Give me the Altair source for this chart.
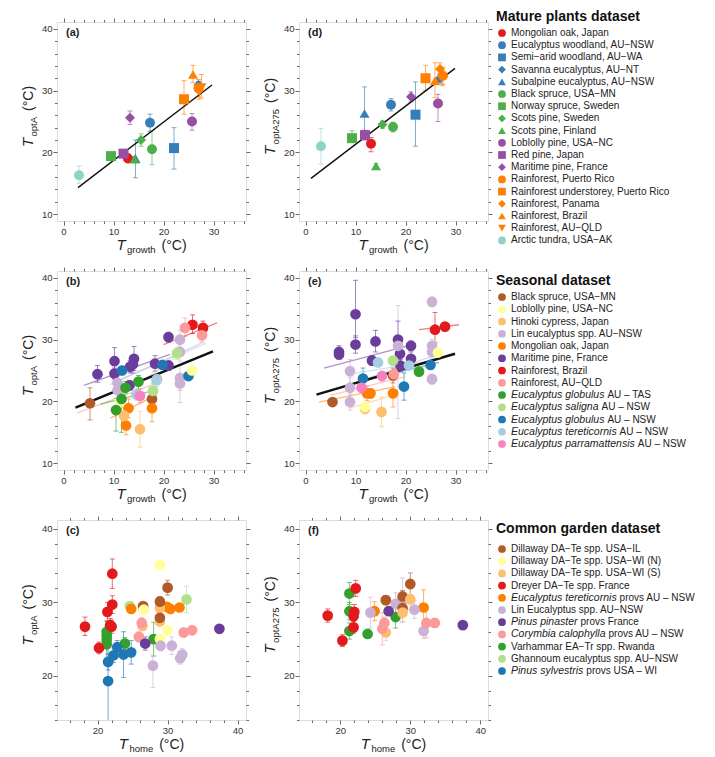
import altair as alt
import pandas as pd

FONT = "Liberation Sans"
TXT = "#222222"
LAB = "#333333"

# ---------------- Mature plants dataset ----------------
mature_names = ["Mongolian oak, Japan", "Eucalyptus woodland, AU−NSW", "Semi−arid woodland, AU−WA",
                "Savanna eucalyptus, AU−NT", "Subalpine eucalyptus, AU−NSW", "Black spruce, USA−MN",
                "Norway spruce, Sweden", "Scots pine, Sweden", "Scots pine, Finland",
                "Loblolly pine, USA−NC", "Red pine, Japan", "Maritime pine, France",
                "Rainforest, Puerto Rico", "Rainforest understorey, Puerto Rico", "Rainforest, Panama",
                "Rainforest, Brazil", "Rainforest, AU−QLD", "Arctic tundra, USA−AK"]
mature_colors = ["#e41a1c", "#377eb8", "#377eb8", "#377eb8", "#377eb8", "#4daf4a", "#4daf4a", "#4daf4a",
                 "#4daf4a", "#984ea3", "#984ea3", "#984ea3", "#ff7f00", "#ff7f00", "#ff7f00", "#ff7f00",
                 "#ff7f00", "#8dd3c7"]
mature_shapes = ["circle", "circle", "square", "diamond", "triangle-up", "circle", "square", "diamond",
                 "triangle-up", "circle", "square", "diamond", "circle", "square", "diamond", "triangle-up",
                 "triangle-down", "circle"]

# panel (a)
a_x = [12.9, 17.3, 22.1, 27.0, 14.4, 17.7, 9.5, 15.5, 14.2, 25.7, 12.0, 13.3, 27.0, 24.1, 27.1, 25.9, 27.6, 3.1]
a_y = [19.0, 24.8, 20.7, 30.9, 19.0, 20.5, 19.4, 22.0, 18.9, 25.0, 19.8, 25.6, 30.4, 28.6, 30.0, 32.6, 30.5, 16.3]
a_lo = [18.4, 23.4, 17.3, 29.8, 15.9, 18.0, 18.9, 21.0, 18.5, 23.6, 19.3, 24.5, 29.0, 26.2, 28.6, 31.3, 28.8, 15.0]
a_hi = [19.8, 26.2, 24.0, 31.5, 22.0, 23.5, 19.9, 23.0, 19.3, 26.3, 20.3, 26.7, 31.8, 31.6, 31.4, 34.1, 32.6, 17.8]
a_fit_x = [2.9, 29.7]
a_fit_y = [14.3, 30.9]

# panel (d)
d_x = [13.1, 17.1, 22.0, 26.9, 11.8, 17.5, 9.3, 15.4, 14.1, 26.5, 11.9, 21.1, 27.5, 24.0, 26.9, 25.9, 27.3, 3.1]
d_y = [21.4, 27.7, 26.1, 32.0, 26.3, 24.1, 22.3, 24.5, 17.8, 27.9, 22.8, 29.0, 32.4, 32.0, 33.5, 31.6, 32.0, 21.0]
d_lo = [20.1, 26.7, 21.0, 31.2, 22.7, 23.3, 21.8, 23.9, 17.4, 25.0, 22.0, 28.2, 31.0, 30.0, 32.0, 28.9, 30.8, 18.1]
d_hi = [22.4, 28.7, 31.4, 32.8, 30.6, 24.9, 23.5, 25.1, 18.2, 29.4, 23.6, 29.8, 33.8, 34.1, 34.5, 34.5, 33.2, 23.9]
d_fit_x = [1.1, 29.9]
d_fit_y = [15.8, 33.6]

# ---------------- Seasonal dataset ----------------
seasonal_italic = ["", "", "", "", "", "", "", "", "Eucalyptus globulus", "Eucalyptus saligna",
                   "Eucalyptus globulus", "Eucalyptus tereticornis", "Eucalyptus parramattensis"]
seasonal_rest = ["Black spruce, USA−MN", "Loblolly pine, USA−NC", "Hinoki cypress, Japan",
                 "Lin eucalyptus spp. AU−NSW", "Mongolian oak, Japan", "Maritime pine, France",
                 "Rainforest, Brazil", "Rainforest, AU−QLD", "AU – TAS", "AU – NSW", "AU – NSW",
                 "AU – NSW", "AU – NSW"]
seasonal_colors = ["#b15928", "#ffff99", "#fdbf6f", "#cab2d6", "#ff7f00", "#6a3d9a", "#e31a1c", "#fb9a99",
                   "#33a02c", "#b2df8a", "#1f78b4", "#a6cee3", "#f781bf"]

# panel (b): group index into the seasonal list
b_g = [0, 0, 5, 5, 5, 5, 5, 5, 5, 5, 5, 5, 3, 3, 3, 3, 3, 3, 3, 10, 10, 10, 11, 11, 4, 4, 4, 2, 2, 1, 1,
       8, 8, 8, 8, 9, 9, 12, 6, 6, 7, 7]
b_x = [5.3, 17.7, 6.8, 10.2, 10.2, 13.3, 13.9, 14.1, 18.3, 21.0, 21.0, 13.2, 10.8, 10.8, 23.3, 23.3, 23.3,
       23.3, 18.7, 11.7, 19.8, 25.0, 14.6, 18.6, 13.0, 12.5, 17.7, 12.1, 15.3, 11.3, 25.7, 10.5, 12.4, 15.0,
       11.6, 17.9, 22.7, 15.3, 25.8, 27.9, 24.3, 27.7]
b_y = [19.7, 20.4, 24.4, 26.5, 24.5, 25.6, 26.0, 26.9, 26.1, 30.4, 25.8, 22.6, 23.0, 21.8, 30.0, 28.0, 23.8,
       22.9, 23.6, 25.0, 25.9, 24.1, 21.1, 23.4, 18.9, 16.1, 18.9, 17.7, 15.5, 20.0, 25.0, 18.6, 22.2, 23.2,
       20.4, 21.7, 27.8, 20.9, 32.4, 31.9, 31.9, 30.7]
b_lo = [17.0, 19.2, 23.1, 24.6, 23.6, 24.6, 24.6, 25.0, 24.9, 29.6, 25.0, 21.8, 21.3, 20.6, 28.5, 26.5, 19.8,
        21.8, 22.8, 24.3, 25.3, 23.6, 20.2, 22.4, 17.4, 14.6, 16.7, 16.4, 12.6, 19.0, 24.3, 15.2, 21.2, 22.0,
        15.0, 20.5, 26.8, 19.8, 31.0, 31.0, 30.5, 29.6]
b_hi = [22.2, 21.6, 25.8, 28.7, 25.4, 26.6, 27.4, 28.9, 27.4, 31.2, 26.6, 23.4, 24.7, 23.0, 31.5, 29.5, 25.8,
        24.0, 24.4, 25.7, 26.5, 24.6, 22.0, 24.4, 20.4, 17.6, 21.1, 19.0, 18.4, 21.0, 25.7, 20.5, 23.2, 24.2,
        21.5, 22.9, 28.8, 22.0, 34.0, 33.0, 33.5, 31.8]
b_fit_g = [5, 3, 11, 6, 7, 4, 8, 9]
b_fit_x1 = [4.1, 9.3, 11.0, 20.0, 2.7, 9.4, 7.3, 10.0]
b_fit_y1 = [22.6, 22.7, 23.4, 29.2, 18.1, 17.3, 19.5, 20.0]
b_fit_x2 = [21.3, 28.0, 28.5, 30.7, 18.7, 18.7, 18.7, 23.0]
b_fit_y2 = [27.6, 29.6, 29.4, 32.7, 23.0, 21.1, 21.9, 27.5]
b_all_x = [2.4, 29.9]
b_all_y = [19.0, 28.1]

# panel (e)
e_g = [0, 0, 5, 5, 5, 5, 5, 5, 5, 5, 5, 5, 5, 3, 3, 3, 3, 3, 3, 3, 3, 10, 10, 10, 11, 11, 9, 9, 8, 4, 4,
       4, 2, 2, 1, 1, 12, 12, 6, 6, 7]
e_x = [5.4, 17.5, 6.7, 6.7, 10.0, 10.0, 13.3, 14.0, 18.5, 18.9, 19.0, 21.1, 21.1, 8.9, 8.9, 8.9, 18.5, 25.3,
       25.3, 25.3, 25.3, 11.5, 19.7, 25.0, 14.5, 20.7, 17.5, 22.7, 22.7, 12.3, 13.0, 17.5, 11.9, 15.2, 11.9,
       26.5, 11.2, 15.3, 25.9, 27.9, 17.7]
e_y = [19.9, 24.2, 28.0, 27.6, 34.1, 29.2, 26.6, 29.7, 30.0, 27.7, 25.8, 29.0, 26.9, 24.9, 22.2, 19.9, 29.0,
       36.1, 29.0, 28.0, 23.6, 23.7, 22.4, 25.9, 26.3, 25.8, 26.6, 24.9, 24.8, 21.3, 21.3, 21.3, 18.8, 18.3,
       19.1, 27.9, 22.2, 24.1, 31.6, 32.1, 24.4]
e_lo = [19.3, 23.0, 27.2, 26.8, 30.3, 27.8, 25.8, 28.0, 27.0, 26.5, 24.8, 28.2, 25.8, 23.0, 20.5, 18.6, 17.2,
        35.3, 28.0, 27.0, 22.8, 22.0, 20.2, 25.2, 25.6, 25.2, 25.9, 24.2, 24.2, 20.1, 20.5, 19.1, 18.0, 15.9,
        18.5, 27.2, 21.5, 23.3, 29.5, 31.5, 23.4]
e_hi = [20.5, 25.4, 29.0, 28.4, 39.6, 30.6, 27.4, 31.5, 33.0, 29.0, 26.8, 29.8, 28.0, 26.8, 23.9, 21.2, 35.5,
        36.9, 30.0, 29.0, 24.4, 25.4, 24.6, 26.6, 27.0, 26.4, 27.3, 25.6, 25.4, 22.5, 22.1, 23.5, 19.6, 20.7,
        19.7, 28.6, 22.9, 24.9, 34.4, 32.7, 25.4]
e_fit_g = [5, 6, 11, 10, 4, 2, 3, 7]
e_fit_x1 = [3.7, 22.7, 8.7, 10.0, 2.7, 8.7, 8.0, 5.0]
e_fit_y1 = [25.4, 31.6, 24.4, 23.0, 19.9, 18.9, 22.5, 21.0]
e_fit_x2 = [22.0, 30.7, 27.0, 26.7, 18.0, 18.0, 26.0, 20.0]
e_fit_y2 = [29.3, 32.4, 26.8, 26.3, 22.4, 21.1, 27.5, 24.0]
e_all_x = [2.2, 29.9]
e_all_y = [21.1, 27.7]

# ---------------- Common garden dataset ----------------
garden_italic = ["", "", "", "", "Eucalyptus tereticornis", "", "Pinus pinaster", "Corymbia calophylla", "",
                 "", "Pinus sylvestris"]
garden_rest = ["Dillaway DA−Te spp. USA−IL", "Dillaway DA−Te spp. USA−WI (N)", "Dillaway DA−Te spp. USA−WI (S)",
               "Dreyer DA−Te spp. France", "provs AU – NSW", "Lin Eucalyptus spp. AU−NSW", "provs France",
               "provs AU – NSW", "Varhammar EA−Tr spp. Rwanda", "Ghannoum eucalyptus spp. AU−NSW",
               "provs USA – WI"]
garden_colors = ["#b15928", "#ffff99", "#fdbf6f", "#e31a1c", "#ff7f00", "#cab2d6", "#6a3d9a", "#fb9a99",
                 "#33a02c", "#b2df8a", "#1f78b4"]

# panel (c)
c_g = [8, 8, 8, 8, 8, 8, 10, 10, 10, 10, 10, 10, 3, 3, 3, 3, 3, 3, 3, 9, 9, 4, 4, 4, 4, 2, 2, 2, 2, 0, 0,
       0, 0, 1, 1, 1, 1, 7, 7, 7, 7, 5, 5, 5, 5, 5, 6, 6]
c_x = [21.3, 21.3, 21.3, 21.3, 23.9, 28.0, 21.5, 21.5, 22.3, 22.8, 23.7, 24.8, 18.2, 20.2, 22.1, 22.1, 21.4,
       22.0, 21.8, 24.6, 32.7, 24.8, 30.4, 31.7, 29.9, 26.4, 28.9, 28.9, 26.5, 28.9, 30.0, 28.9, 26.5, 28.9,
       26.6, 30.0, 28.9, 25.9, 26.3, 32.3, 33.5, 27.9, 29.0, 30.6, 31.8, 32.1, 26.8, 37.4]
c_y = [26.0, 25.5, 24.9, 24.3, 24.4, 25.0, 19.3, 21.9, 22.8, 23.9, 22.9, 23.2, 26.7, 23.8, 33.9, 29.7, 28.7,
       26.7, 26.9, 29.5, 30.4, 29.1, 29.1, 29.3, 29.4, 26.8, 29.2, 27.4, 29.3, 30.1, 32.0, 27.9, 29.5, 35.1,
       29.0, 26.2, 25.0, 25.3, 27.2, 25.9, 26.2, 21.4, 24.1, 24.1, 22.4, 22.9, 24.4, 26.4]
c_lo = [25.2, 24.6, 24.0, 22.0, 23.6, 22.7, 13.0, 20.8, 21.8, 23.0, 19.8, 21.6, 25.5, 23.0, 31.9, 28.5, 27.4,
        25.8, 26.0, 28.9, 28.6, 28.6, 28.6, 28.8, 28.9, 26.2, 28.6, 26.8, 28.8, 29.4, 31.0, 27.0, 29.0, 34.5,
        28.4, 25.6, 24.4, 24.6, 26.5, 25.3, 25.6, 18.4, 23.4, 22.9, 21.6, 22.1, 23.5, 25.8]
c_hi = [26.8, 26.4, 25.8, 27.5, 25.2, 27.3, 24.8, 23.0, 23.8, 24.8, 26.0, 24.8, 28.0, 24.6, 35.9, 30.9, 30.0,
        27.6, 27.8, 30.1, 32.2, 29.6, 29.6, 29.8, 29.9, 27.4, 29.8, 28.0, 29.8, 30.8, 33.0, 28.8, 30.0, 35.7,
        29.6, 26.8, 25.6, 26.0, 27.9, 26.5, 26.8, 22.7, 24.8, 25.3, 23.2, 23.7, 25.3, 27.0]

# panel (f)
f_g = [8, 8, 8, 8, 8, 3, 3, 3, 3, 3, 3, 4, 4, 5, 5, 5, 5, 5, 1, 0, 0, 0, 0, 2, 2, 2, 6, 6, 7, 7, 7, 7]
f_x = [21.3, 21.3, 21.3, 23.9, 27.9, 18.2, 20.3, 22.2, 22.0, 21.9, 21.9, 24.9, 31.9, 24.3, 27.9, 28.9, 30.6,
       31.9, 26.5, 26.5, 28.9, 30.0, 28.9, 28.9, 30.0, 26.5, 26.9, 37.5, 26.0, 26.3, 32.3, 33.5]
f_y = [31.2, 28.8, 26.1, 25.7, 28.0, 28.2, 24.8, 31.9, 28.7, 28.1, 26.6, 28.8, 29.3, 28.6, 29.8, 30.3, 29.0,
       26.1, 30.2, 30.3, 30.8, 32.5, 29.2, 28.6, 30.4, 25.9, 28.8, 26.9, 26.4, 27.2, 27.2, 27.2]
f_lo = [29.7, 27.6, 25.0, 25.2, 26.5, 27.3, 24.0, 30.8, 27.7, 27.1, 25.8, 27.5, 26.9, 26.5, 28.3, 27.3, 27.8,
        25.1, 29.6, 29.7, 30.0, 31.0, 28.4, 27.4, 29.0, 24.8, 28.2, 26.4, 24.2, 26.4, 25.2, 26.6]
f_hi = [32.7, 30.0, 27.2, 26.2, 29.5, 29.1, 25.6, 33.0, 29.7, 29.1, 27.4, 30.1, 31.7, 30.7, 31.3, 33.3, 30.2,
        27.1, 30.8, 30.9, 31.6, 34.0, 30.0, 29.8, 31.8, 27.0, 29.4, 27.4, 28.6, 28.0, 29.2, 27.8]

# ---------------- helpers ----------------
_W = {}
for chars, w in [(" ", 278), ("()", 333), ("°", 400), ("−", 584), ("–", 556), ("-", 333), (".,", 278),
                 ("0123456789", 556), ("abdeghnopqu", 556), ("ckvxyzsJ", 500), ("ft", 278), ("ijl", 222),
                 ("m", 833), ("r", 333), ("w", 722), ("ABEKPSVXY", 667), ("CDHNRU", 722), ("FTZ", 611),
                 ("GOQ", 778), ("I", 278), ("L", 556), ("M", 833), ("W", 944)]:
    for ch in chars:
        _W[ch] = w


def tw(s, size):
    return sum(_W.get(ch, 556) for ch in s) * size / 1000.0


def txt(s, x, y, size, style="normal", weight="normal", angle=0, align="left", baseline="alphabetic",
        color=TXT):
    return alt.Chart(pd.DataFrame({"t": [s]})).mark_text(
        font=FONT, fontSize=size, fontStyle=style, fontWeight=weight, angle=angle, align=align,
        baseline=baseline, color=color).encode(x=alt.value(x), y=alt.value(y), text="t:N")


def ax(orient, vals, labels=True):
    return alt.Axis(orient=orient, values=vals, title=None, grid=False, domain=False, labels=labels,
                    labelExpr="datum.value % 10 == 0 ? datum.label : ''",
                    tickSize={"condition": {"test": "datum.value % 10 == 0", "value": 4}, "value": 2.5},
                    tickColor="#444444", tickWidth=0.8, labelFont=FONT, labelFontSize=9.5,
                    labelColor=LAB, labelPadding=1, labelOverlap=False, labelFlush=False)


def panel(pts, names, colors, shapes, xdom, ydom, xvals, yvals, w, h, label, xsub, ysub, psize,
          fits=None, allfit=None, allw=1.5):
    xs = alt.Scale(domain=xdom, nice=False, zero=False)
    ys = alt.Scale(domain=ydom, nice=False, zero=False)
    col = alt.Color("g:N", scale=alt.Scale(domain=names, range=colors), legend=None)
    base = alt.Chart(pts)
    layers = [
        base.mark_rule(strokeWidth=0.9, opacity=0.7, clip=True).encode(
            x=alt.X("x:Q", scale=xs, axis=None), y=alt.Y("lo:Q", scale=ys, axis=None), y2="hi:Q", color=col)
    ]
    for f in ["lo", "hi"]:
        layers.append(base.mark_tick(orient="horizontal", size=5, thickness=0.9, opacity=0.7, clip=True).encode(
            x=alt.X("x:Q", scale=xs, axis=None), y=alt.Y(f + ":Q", scale=ys, axis=None), color=col))
    if fits is not None:
        layers.append(alt.Chart(fits).mark_rule(strokeWidth=1.3, opacity=0.55).encode(
            x=alt.X("x1:Q", scale=xs, axis=None), y=alt.Y("y1:Q", scale=ys, axis=None),
            x2="x2:Q", y2="y2:Q", color=col))
    if allfit is not None:
        layers.append(alt.Chart(allfit).mark_line(strokeWidth=allw, color="#111111").encode(
            x=alt.X("x:Q", scale=xs, axis=None), y=alt.Y("y:Q", scale=ys, axis=None)))
    enc = dict(x=alt.X("x:Q", scale=xs, axis=ax("bottom", xvals)),
               y=alt.Y("y:Q", scale=ys, axis=ax("left", yvals)), color=col)
    if shapes is None:
        layers.append(base.mark_circle(size=psize, opacity=1).encode(**enc))
    else:
        layers.append(base.mark_point(filled=True, size=psize, opacity=1).encode(
            shape=alt.Shape("g:N", scale=alt.Scale(domain=names, range=shapes), legend=None), **enc))
    layers.append(base.mark_point(opacity=0).encode(
        x=alt.X("x:Q", scale=xs, axis=ax("top", xvals, False)),
        y=alt.Y("y:Q", scale=ys, axis=ax("right", yvals, False))))
    layers.append(txt(label, 9, 11, 11, weight="bold", baseline="middle"))
    # x title
    gap, sub_off = 6, 1.5
    wT, wS, wP = tw("T", 15), tw(xsub, 9.5), tw("(°C)", 14)
    x0 = w / 2 - (wT + sub_off + wS + gap + wP) / 2
    layers.append(txt("T", x0, h + 28.5, 15, style="italic"))
    layers.append(txt(xsub, x0 + wT + sub_off, h + 32, 9.5))
    layers.append(txt("(°C)", x0 + wT + sub_off + wS + gap, h + 28.5, 14))
    # y title (rotated)
    wS = tw(ysub, 9.5)
    y0 = h / 2 - 5 + (wT + sub_off + wS + gap + wP) / 2
    layers.append(txt("T", -24, y0, 15, style="italic", angle=270))
    layers.append(txt(ysub, -20.5, y0 - wT - sub_off, 9.5, angle=270))
    layers.append(txt("(°C)", -24, y0 - wT - sub_off - wS - gap, 14, angle=270))
    return alt.layer(*layers).resolve_axis(x="independent", y="independent").properties(width=w, height=h)


LEG_X = -45  # legend block starts 8px right of the second panel


def legend(title, title_y, y0, step, italics, rests, colors, shapes, h, w=150):
    n = len(rests)
    ypx = [y0 + i * step for i in range(n)]
    xrest = [LEG_X + 15 + (tw(it, 10.5) + 3 if it else 0) for it in italics]
    df = pd.DataFrame({"ypx": ypx, "it": italics, "rest": rests, "xrest": xrest, "c": colors, "s": shapes})
    base = alt.Chart(df)
    yenc = alt.Y("ypx:Q", scale=None, axis=None)
    layers = [
        txt(title, LEG_X, title_y, 14, weight="bold", baseline="middle", color="#111111"),
        base.mark_point(filled=True, size=60, opacity=1).encode(
            x=alt.value(LEG_X + 6), y=yenc, color=alt.Color("c:N", scale=None, legend=None),
            shape=alt.Shape("s:N", scale=None, legend=None)),
        base.mark_text(font=FONT, fontSize=10.5, fontStyle="italic", align="left", baseline="middle",
                       color=TXT).encode(x=alt.value(LEG_X + 15), y=yenc, text="it:N"),
        base.mark_text(font=FONT, fontSize=10, align="left", baseline="middle", color=TXT).encode(
            x=alt.X("xrest:Q", scale=None, axis=None), y=yenc, text="rest:N"),
    ]
    return alt.layer(*layers).properties(width=w, height=h, view=alt.ViewBackground(stroke="transparent"))


def pts_df(names, g, x, y, lo, hi):
    return pd.DataFrame({"g": [names[i] for i in g], "x": x, "y": y, "lo": lo, "hi": hi})


def fit_df(names, g, x1, y1, x2, y2):
    return pd.DataFrame({"g": [names[i] for i in g], "x1": x1, "y1": y1, "x2": x2, "y2": y2})


seasonal_names = [(i + " " + r).strip() for i, r in zip(seasonal_italic, seasonal_rest)]
garden_names = [(i + " " + r).strip() for i, r in zip(garden_italic, garden_rest)]
idx18 = list(range(len(mature_names)))

W1, W2, H = 189, 189, 199
XD = [-1.3, 36.5]
YD = [8.9, 41.1]
XV = list(range(0, 37, 2))
YV = list(range(10, 41, 2))
XD2a = [14.2, 41.2]
XD2b = [14.1, 41.1]
YD2 = [14.0, 41.2]
XV2 = list(range(16, 41, 2))
YV2 = list(range(14, 41, 2))

pa = panel(pts_df(mature_names, idx18, a_x, a_y, a_lo, a_hi), mature_names, mature_colors, mature_shapes,
           XD, YD, XV, YV, W1, H, "(a)", "growth", "optA", 100,
           allfit=pd.DataFrame({"x": a_fit_x, "y": a_fit_y}), allw=1.4)
pdd = panel(pts_df(mature_names, idx18, d_x, d_y, d_lo, d_hi), mature_names, mature_colors, mature_shapes,
            XD, YD, XV, YV, W2, H, "(d)", "growth", "optA275", 100,
            allfit=pd.DataFrame({"x": d_fit_x, "y": d_fit_y}), allw=1.4)
pb = panel(pts_df(seasonal_names, b_g, b_x, b_y, b_lo, b_hi), seasonal_names, seasonal_colors, None,
           XD, YD, XV, YV, W1, H, "(b)", "growth", "optA", 115,
           fits=fit_df(seasonal_names, b_fit_g, b_fit_x1, b_fit_y1, b_fit_x2, b_fit_y2),
           allfit=pd.DataFrame({"x": b_all_x, "y": b_all_y}), allw=2.5)
pe = panel(pts_df(seasonal_names, e_g, e_x, e_y, e_lo, e_hi), seasonal_names, seasonal_colors, None,
           XD, YD, XV, YV, W2, H, "(e)", "growth", "optA275", 115,
           fits=fit_df(seasonal_names, e_fit_g, e_fit_x1, e_fit_y1, e_fit_x2, e_fit_y2),
           allfit=pd.DataFrame({"x": e_all_x, "y": e_all_y}), allw=2.5)
pc = panel(pts_df(garden_names, c_g, c_x, c_y, c_lo, c_hi), garden_names, garden_colors, None,
           XD2a, YD2, XV2, YV2, W1, 200, "(c)", "home", "optA", 115)
pf = panel(pts_df(garden_names, f_g, f_x, f_y, f_lo, f_hi), garden_names, garden_colors, None,
           XD2b, YD2, XV2, YV2, W2, 200, "(f)", "home", "optA275", 115)

leg1 = legend("Mature plants dataset", -5, 11, 12.2, [""] * 18, mature_names, mature_colors, mature_shapes, H)
leg2 = legend("Seasonal dataset", 10, 26, 12.25, seasonal_italic, seasonal_rest, seasonal_colors,
              ["circle"] * 13, H)
leg3 = legend("Common garden dataset", 9, 29, 12.2, garden_italic, garden_rest, garden_colors,
              ["circle"] * 11, 200)

chart = alt.concat(pa, pdd, leg1, pb, pe, leg2, pc, pf, leg3, columns=3,
                   spacing={"row": 50, "column": 53}, bounds="flush").resolve_scale(
    color="independent", shape="independent", x="independent", y="independent"
).properties(
    padding={"left": 12, "top": 1, "right": 2, "bottom": 0}
).configure_view(stroke="#333333", strokeWidth=1).configure(font=FONT)

chart.save("out.html", embed_options={"renderer": "svg", "actions": False})
